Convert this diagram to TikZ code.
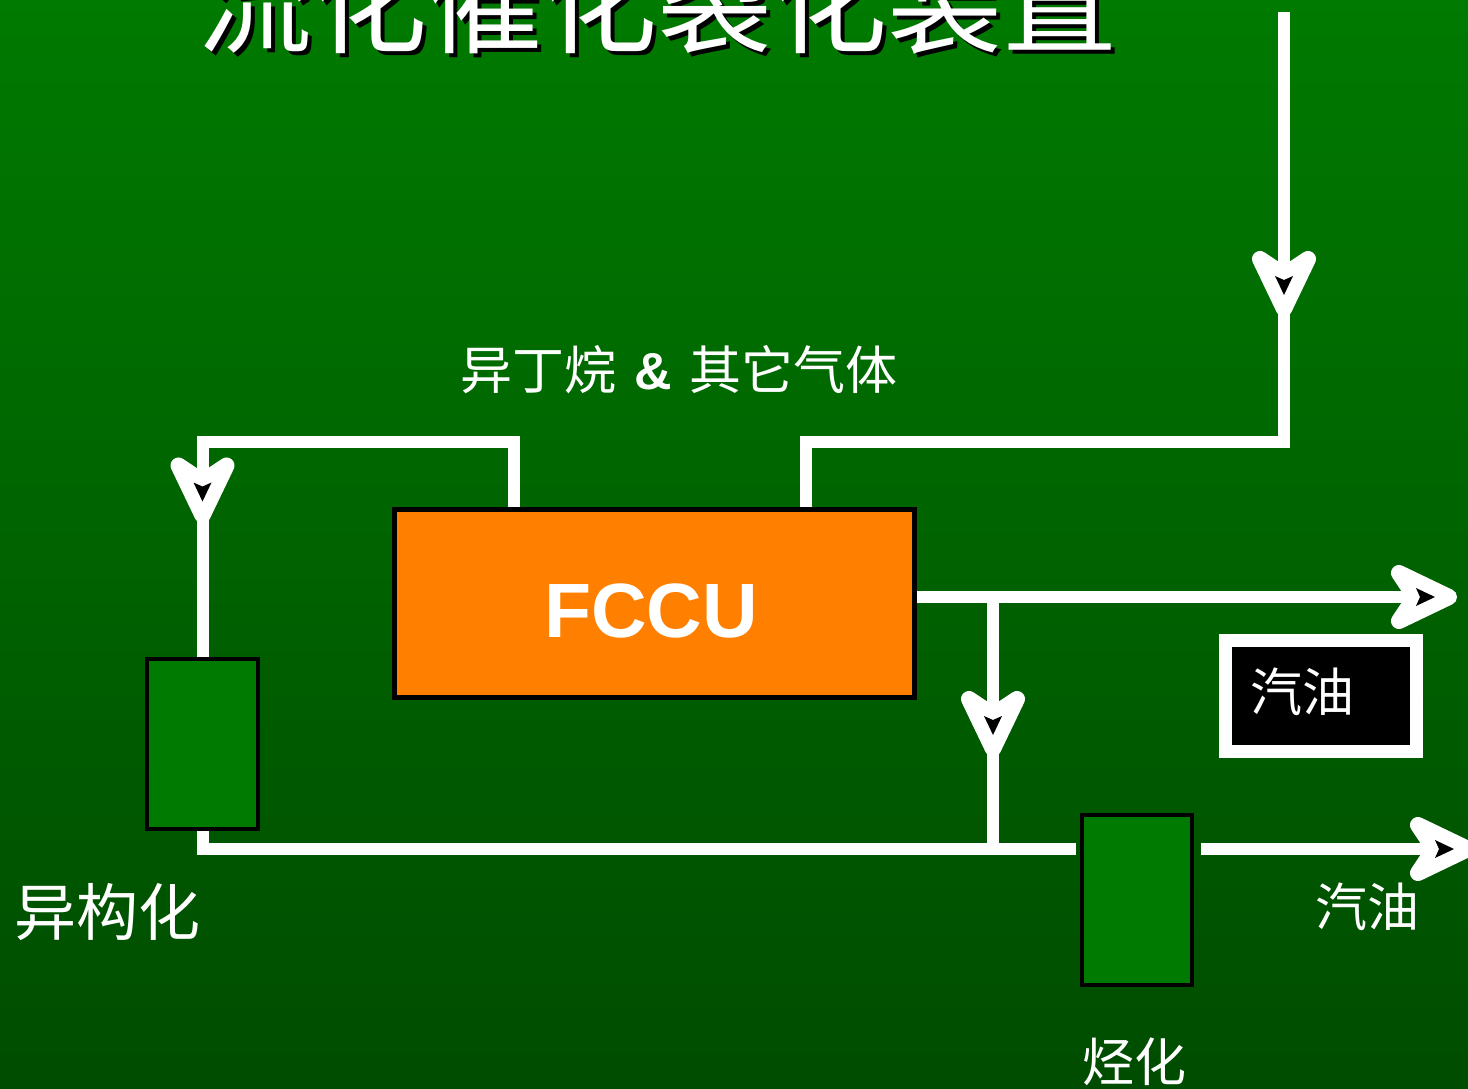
\documentclass[tikz,border=0pt]{standalone}
\usepackage{fontspec}
\newfontfamily\cjk{Noto Sans CJK SC}
\newfontfamily\arialf{Liberation Sans}
\usetikzlibrary{decorations.markings,calc}
\definecolor{bgtop}{RGB}{0,122,0}
\definecolor{bgbot}{RGB}{0,76,0}
\definecolor{unitgreen}{RGB}{0,122,0}
\definecolor{fccuorange}{RGB}{255,128,0}
\begin{document}
\begin{tikzpicture}[x=1pt,y=-1pt,
  flow/.style={draw=white, line width=12pt},
  headshape/.style={decoration={markings, mark=at position #1 with {
      \fill[white, draw=white, line width=16pt, line join=round] (-8,0) -- (-58,24) -- (-42,0) -- (-58,-24) -- cycle;
      \fill[black] (-22,0) -- (-41,9) -- (-37,0) -- (-41,-9) -- cycle;}}},
  midarrow/.style={postaction={decorate, headshape=#1}},
  unit/.style={draw=black, line width=4pt, fill=unitgreen, minimum width=111pt, minimum height=170pt, inner sep=0pt},
  lbl/.style={text=white, inner sep=0pt, font=\cjk\fontsize{#1}{#1}\selectfont},
]
\fill[top color=bgtop, bottom color=bgbot] (0,0) rectangle (1468,1088);
\useasboundingbox (0,0) rectangle (1468,1088);

% title with shadow
\node[lbl=115, text=black] (titleshadow) at (661,5) {流化催化裂化装置};
\node[lbl=115] (title) at (657,1) {流化催化裂化装置};

% units
\node[fill=fccuorange, draw=black, line width=5pt, minimum width=520pt, minimum height=188pt, inner sep=0pt] (fccu) at (654.5,603.5) {};
\node[text=white, inner sep=0pt, font=\arialf\bfseries\fontsize{77}{77}\selectfont] (fccutext) at (651,611) {FCCU};
\node[unit] (iso) at (202.5,744) {};
\node[unit, minimum width=110pt] (alk) at (1137,900) {};
\node[draw=white, line width=13pt, fill=black, minimum width=191pt, minimum height=111pt, inner sep=0pt] (gasbox) at (1320.5,695.5) {};
\node[lbl=52] (gastext) at (1302,692) {汽油};

% labels
\node[lbl=52] (feed) at (679,370) {异丁烷\hspace{18pt}{\arialf\bfseries\&}\hspace{18pt}其它气体};
\node[lbl=62] (isolabel) at (108,912) {异构化};
\node[lbl=52] (alklabel) at (1134,1062) {烃化};
\node[lbl=52] (gas2) at (1367,907) {汽油};

% connector points
\coordinate (src) at (1284,12);
\coordinate (in2) at (806,442);
\coordinate (out1) at (514,442);
\coordinate (gasend) at (1457,597);
\coordinate (br) at (993,597);
\coordinate (j) at (993,849);
\coordinate (alkend) at (1476,849);

\draw[flow, midarrow=305pt] (src) |- (in2) -- (in2 |- fccu.north);
\draw[flow, midarrow=458pt] (fccu.north -| out1) -- (out1) -| (iso.north);
\draw[flow, shorten >=20pt] (fccu.east |- gasend) -- (gasend);
\path[midarrow=1] (fccu.east |- gasend) -- (gasend);
\draw[flow, midarrow=160pt] (br) -- (j);
\draw[flow, shorten >=4pt] (iso.south) |- (j) -- (alk.west |- j);
\draw[flow, shorten <=7pt, shorten >=20pt] (alk.east |- j) -- (alkend);
\path[midarrow=1] (alk.east |- j) -- (alkend);
\end{tikzpicture}
\end{document}
